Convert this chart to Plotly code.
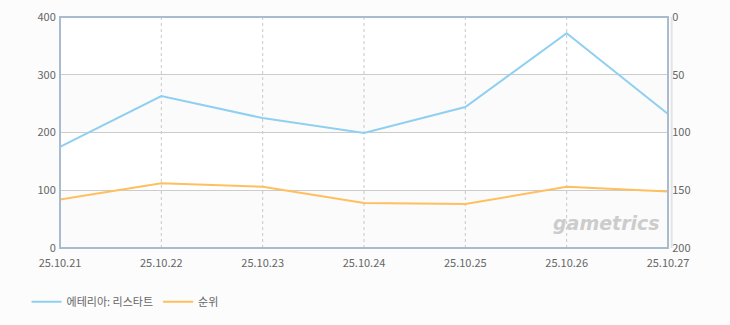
import plotly.graph_objects as go

dates = ["25.10.21", "25.10.22", "25.10.23", "25.10.24", "25.10.25", "25.10.26", "25.10.27"]
series_name = "에테리아: 리스타트"
series_vals = [175, 263, 225, 199, 244, 372, 232]
rank_name = "순위"
rank_vals = [158, 144, 147, 161, 162, 147, 151]
left_ticks = [0, 100, 200, 300, 400]
right_ticks = [0, 50, 100, 150, 200]

fig = go.Figure()
fig.add_trace(go.Scatter(x=dates, y=series_vals, name=series_name, mode="lines",
                         line=dict(color="#8fd0f0", width=2), yaxis="y"))
fig.add_trace(go.Scatter(x=dates, y=rank_vals, name=rank_name, mode="lines",
                         line=dict(color="#ffbf5e", width=2), yaxis="y2"))

shapes = []
for lo, hi in [(0, 100), (200, 300)]:
    shapes.append(dict(type="rect", xref="paper", yref="y", x0=0, x1=1, y0=lo, y1=hi,
                       fillcolor="#fbfbfb", line=dict(width=0), layer="below"))
for d in dates[1:-1]:
    shapes.append(dict(type="line", xref="x", yref="paper", x0=d, x1=d, y0=0, y1=1,
                       line=dict(color="#c8c8c8", width=1, dash="3px,3px"), layer="below"))
# right shadow
shapes.append(dict(type="line", xref="paper", yref="paper", x0=1.006, x1=1.006, y0=0, y1=1,
                   line=dict(color="#e4e4e4", width=2)))
shapes.append(dict(type="rect", xref="paper", yref="paper", x0=0, x1=1, y0=0, y1=1,
                   line=dict(color="#a9bccf", width=2)))

font = dict(family="Noto Sans CJK KR, DejaVu Sans, sans-serif", size=11, color="#666666")

fig.update_layout(
    width=730, height=325,
    margin=dict(l=60, r=62, t=17, b=77, autoexpand=False),
    paper_bgcolor="#fcfcfc", plot_bgcolor="#ffffff",
    font=font,
    showlegend=True,
    legend=dict(orientation="h", x=-0.055, y=-0.17, xanchor="left", yanchor="top",
                itemwidth=30, font=dict(size=11, color="#666666"), bgcolor="rgba(0,0,0,0)"),
    xaxis=dict(type="category", range=[0, 6], showgrid=False, zeroline=False,
               ticks="outside", ticklen=5, tickcolor="rgba(0,0,0,0)", tickfont=font, showline=False),
    yaxis=dict(range=[0, 400], tickvals=left_ticks, showgrid=True, gridcolor="#cccccc",
               gridwidth=1, zeroline=False, ticks="outside", ticklen=1, tickcolor="rgba(0,0,0,0)",
               tickfont=font, showline=False),
    yaxis2=dict(range=[200, 0], tickvals=right_ticks, overlaying="y", side="right",
                showgrid=False, zeroline=False, ticks="outside", ticklen=1, tickcolor="rgba(0,0,0,0)",
                tickfont=font, showline=False),
    shapes=shapes,
    annotations=[dict(text="<b><i>gametrics</i></b>", xref="paper", yref="paper",
                      x=0.99, y=0.05, xanchor="right", yanchor="bottom", showarrow=False,
                      font=dict(family="DejaVu Sans, sans-serif", size=19, color="#cccccc"))],
)

fig.write_html("out.html")
